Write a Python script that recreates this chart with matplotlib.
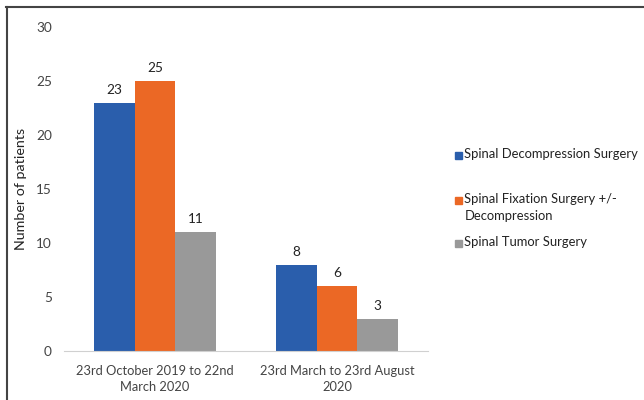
import matplotlib
matplotlib.use("Agg")
import matplotlib.pyplot as plt
from matplotlib.lines import Line2D
from matplotlib.patches import Rectangle
import numpy as np

categories = ["23rd October 2019 to 22nd\nMarch 2020", "23rd March to 23rd August\n2020"]
series_names = ["Spinal Decompression Surgery",
                "Spinal Fixation Surgery +/-\nDecompression",
                "Spinal Tumor Surgery"]
decompression = [23, 8]
fixation = [25, 6]
tumor = [11, 3]
yticks = [0, 5, 10, 15, 20, 25, 30]

colors = ["#2A5EAC", "#EB6825", "#999999"]

plt.rcParams['font.family'] = ['Lato', 'DejaVu Sans']

W, H = 644, 400
fig = plt.figure(figsize=(W / 100, H / 100), dpi=100)
ax = fig.add_axes([0.099, 0.1225, 0.566, 0.81])

x = np.arange(len(categories))
w = 0.222
for i, (vals, c, name) in enumerate(zip([decompression, fixation, tumor], colors, series_names)):
    bars = ax.bar(x + (i - 1) * w, vals, width=w, color=c, label=name)
    for b, v in zip(bars, vals):
        ax.text(b.get_x() + b.get_width() / 2, v + 0.65, str(v), ha='center', va='bottom',
                fontsize=9.8, color='#222222')

ax.set_xlim(-0.5, 1.5)
ax.set_ylim(0, 30)
ax.set_yticks(yticks)
ax.set_xticks(x)
ax.set_xticklabels(categories, fontsize=9.3, color='#444444', linespacing=1.45)
ax.tick_params(axis='y', length=0, labelsize=9.8, labelcolor='#444444', pad=8.5)
ax.tick_params(axis='x', length=0, pad=10)
for s in ['top', 'right', 'left']:
    ax.spines[s].set_visible(False)
ax.spines['bottom'].set_color('#D0D0D0')
ax.set_ylabel("Number of patients", fontsize=10.3, color='#222222')
ax.yaxis.set_label_coords(-0.102, 0.5)

# Legend drawn in Excel style (marker aligned with first text line)
leg_rows = [155, 200, 243]  # pixel y of first text line centres
for name, c, yp in zip(series_names, colors, leg_rows):
    fig.add_artist(Rectangle((455 / W, 1 - (yp + 3.5) / H), 7 / W, 7 / H, color=c,
                             transform=fig.transFigure))
    fig.text(464.5 / W, 1 - (yp - 7.1) / H, name, ha='left', va='top', fontsize=9.4,
             color='#222222', linespacing=1.5)

fig.add_artist(Line2D([6 / W, 1.0], [1 - 7 / H, 1 - 7 / H], color='#444444', lw=1.5,
                      transform=fig.transFigure))
fig.add_artist(Line2D([6.5 / W, 6.5 / W], [0, 1 - 7 / H], color='#444444', lw=1.5,
                      transform=fig.transFigure))

fig.savefig("out.png", dpi=100)
